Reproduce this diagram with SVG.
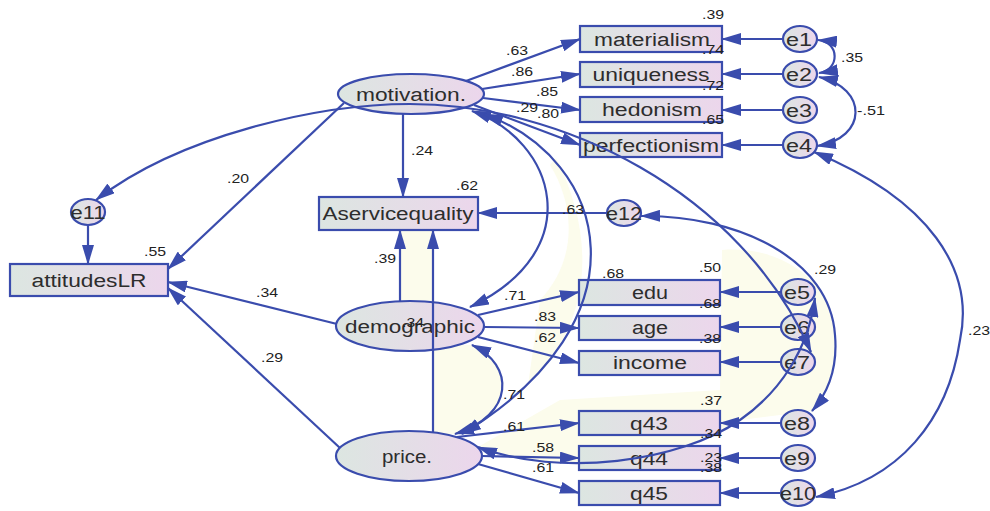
<svg xmlns="http://www.w3.org/2000/svg" width="990" height="511" viewBox="0 0 990 511">
<defs>
<linearGradient id="gf" x1="0" y1="0" x2="1" y2="0">
<stop offset="0" stop-color="#dce6e1"/>
<stop offset="1" stop-color="#ecd6ec"/>
</linearGradient>
<marker id="ah" viewBox="0 0 20 12" markerWidth="20" markerHeight="12" refX="19" refY="6" orient="auto-start-reverse" markerUnits="userSpaceOnUse">
<path d="M0,0 L20,6 L0,12 Z" fill="#3a4cad"/>
</marker>
<style>
.bx{fill:url(#gf);stroke:#3a4cad;stroke-width:2.2}
.el{fill:url(#gf);stroke:#3a4cad;stroke-width:2.2}
.nt{font-family:"Liberation Sans",Arial,sans-serif;font-size:18px;fill:#2d2d2d;text-anchor:middle}
.lb{font-family:"Liberation Sans",Arial,sans-serif;font-size:13px;fill:#222;text-anchor:middle}
.cn path{fill:none;stroke:#3a4cad;stroke-width:2.2}
.a1{marker-end:url(#ah)}
.a2{marker-start:url(#ah);marker-end:url(#ah)}
.tint{fill:#fcfcec;stroke:none}
</style>
</defs>
<rect x="0" y="0" width="990" height="511" fill="#ffffff"/>
<g id="tints">
<rect class="tint" x="400" y="230" width="33" height="72"/>
<path class="tint" d="M433,345 L472,345 C515,365 515,415 455,434 L433,434 Z"/>
<path class="tint" d="M550,165 C575,205 578,260 540,300 L528,385 C596,320 594,232 556,158 Z"/>
<path class="tint" d="M722,250 C790,245 835,290 835,335 C838,370 826,395 812,411 L740,420 C680,462 560,478 478,447 L560,400 L720,390 Z"/>
</g>
<g id="nodes">
<g id="motivation"><ellipse class="el" cx="411" cy="94" rx="73" ry="20"/><text class="nt" x="411" y="100.5" textLength="110" lengthAdjust="spacingAndGlyphs">motivation.</text></g>
<g id="demographic"><ellipse class="el" cx="410" cy="326" rx="74" ry="25"/><text class="nt" x="410" y="332.5" textLength="130" lengthAdjust="spacingAndGlyphs">demographic</text></g>
<g id="price"><ellipse class="el" cx="409" cy="456" rx="73" ry="25"/><text class="nt" x="407" y="462.5" textLength="50" lengthAdjust="spacingAndGlyphs">price.</text></g>
<g id="materialism"><rect class="bx" x="580" y="26" width="142" height="26"/><text class="nt" x="652" y="45.5" textLength="116" lengthAdjust="spacingAndGlyphs">materialism</text></g>
<g id="uniqueness"><rect class="bx" x="580" y="62" width="142" height="25"/><text class="nt" x="651" y="80.5" textLength="117" lengthAdjust="spacingAndGlyphs">uniqueness</text></g>
<g id="hedonism"><rect class="bx" x="580" y="97" width="142" height="25"/><text class="nt" x="652" y="116" textLength="100" lengthAdjust="spacingAndGlyphs">hedonism</text></g>
<g id="perfectionism"><rect class="bx" x="580" y="133" width="142" height="24"/><text class="nt" x="651" y="151.5" textLength="136" lengthAdjust="spacingAndGlyphs">perfectionism</text></g>
<g id="Aservicequality"><rect class="bx" x="319" y="197" width="159" height="33"/><text class="nt" x="398" y="220" textLength="151" lengthAdjust="spacingAndGlyphs">Aservicequality</text></g>
<g id="attitudesLR"><rect class="bx" x="10" y="264" width="158" height="32"/><text class="nt" x="89" y="286.5" textLength="115" lengthAdjust="spacingAndGlyphs">attitudesLR</text></g>
<g id="edu"><rect class="bx" x="579" y="280" width="141" height="25"/><text class="nt" x="650" y="298.5" textLength="36" lengthAdjust="spacingAndGlyphs">edu</text></g>
<g id="age"><rect class="bx" x="579" y="316" width="141" height="24"/><text class="nt" x="650" y="334" textLength="36" lengthAdjust="spacingAndGlyphs">age</text></g>
<g id="income"><rect class="bx" x="579" y="351" width="141" height="24"/><text class="nt" x="650" y="369" textLength="74" lengthAdjust="spacingAndGlyphs">income</text></g>
<g id="q43"><rect class="bx" x="579" y="411" width="141" height="24"/><text class="nt" x="649" y="429.5" textLength="38" lengthAdjust="spacingAndGlyphs">q43</text></g>
<g id="q44"><rect class="bx" x="579" y="446" width="141" height="24"/><text class="nt" x="649" y="464.5" textLength="38" lengthAdjust="spacingAndGlyphs">q44</text></g>
<g id="q45"><rect class="bx" x="579" y="481" width="141" height="24"/><text class="nt" x="649" y="499.5" textLength="38" lengthAdjust="spacingAndGlyphs">q45</text></g>
<g id="e1"><ellipse class="el" cx="800" cy="39" rx="17" ry="13"/><text class="nt" x="799" y="45.5" textLength="26" lengthAdjust="spacingAndGlyphs">e1</text></g>
<g id="e2"><ellipse class="el" cx="800" cy="74" rx="17" ry="13"/><text class="nt" x="799" y="80.5" textLength="26" lengthAdjust="spacingAndGlyphs">e2</text></g>
<g id="e3"><ellipse class="el" cx="800" cy="110" rx="17" ry="13"/><text class="nt" x="799" y="116.5" textLength="26" lengthAdjust="spacingAndGlyphs">e3</text></g>
<g id="e4"><ellipse class="el" cx="800" cy="145" rx="17" ry="13"/><text class="nt" x="799" y="151.5" textLength="26" lengthAdjust="spacingAndGlyphs">e4</text></g>
<g id="e5"><ellipse class="el" cx="798" cy="292" rx="17" ry="13"/><text class="nt" x="797" y="298.5" textLength="26" lengthAdjust="spacingAndGlyphs">e5</text></g>
<g id="e6"><ellipse class="el" cx="798" cy="327" rx="17" ry="13"/><text class="nt" x="797" y="333.5" textLength="26" lengthAdjust="spacingAndGlyphs">e6</text></g>
<g id="e7"><ellipse class="el" cx="798" cy="362" rx="17" ry="13"/><text class="nt" x="797" y="368.5" textLength="26" lengthAdjust="spacingAndGlyphs">e7</text></g>
<g id="e8"><ellipse class="el" cx="798" cy="423" rx="17" ry="13"/><text class="nt" x="797" y="429.5" textLength="26" lengthAdjust="spacingAndGlyphs">e8</text></g>
<g id="e9"><ellipse class="el" cx="798" cy="458" rx="17" ry="13"/><text class="nt" x="797" y="464.5" textLength="26" lengthAdjust="spacingAndGlyphs">e9</text></g>
<g id="e10"><ellipse class="el" cx="798" cy="493" rx="17" ry="13"/><text class="nt" x="798" y="499.5" textLength="36" lengthAdjust="spacingAndGlyphs">e10</text></g>
<g id="e11"><ellipse class="el" cx="88" cy="212" rx="17" ry="13"/><text class="nt" x="88" y="218.5" textLength="35" lengthAdjust="spacingAndGlyphs">e11</text></g>
<g id="e12"><ellipse class="el" cx="624" cy="213" rx="17" ry="13"/><text class="nt" x="624" y="219.5" textLength="36" lengthAdjust="spacingAndGlyphs">e12</text></g>
</g>
<g id="connectors" class="cn">
<path class="a1" d="M466,81 L580,39"/>
<path class="a1" d="M482,89 L580,74"/>
<path class="a1" d="M483,98 L580,110"/>
<path class="a1" d="M474,105 L580,145"/>
<path class="a1" d="M783,39 L722,39"/>
<path class="a1" d="M783,74 L722,74"/>
<path class="a1" d="M783,110 L722,110"/>
<path class="a1" d="M783,145 L722,145"/>
<path class="a2" d="M818,40 C840,42 840,70 819,73"/>
<path class="a2" d="M819,77 C868,88 868,138 817,146"/>
<path class="a1" d="M403,114 L403,197"/>
<path class="a1" d="M344,103 L168,269"/>
<path class="a2" d="M96,200 C180,135 320,104 410,104 C560,104 740,190 811,352"/>
<path class="a1" d="M607,213 L478,213"/>
<path class="a2" d="M641,216 C740,215 830,260 835,335 C838,370 826,395 812,411"/>
<path class="a2" d="M814,152 C930,200 975,270 960,340 C948,420 900,480 816,497"/>
<path class="a2" d="M472,111 C555,140 590,250 470,307"/>
<path class="a2" d="M484,114 C610,160 650,320 462,434"/>
<path class="a2" d="M472,345 C515,365 515,415 455,434"/>
<path class="a2" d="M478,447 C560,478 680,462 740,420 C780,392 808,350 815,298"/>
<path class="a1" d="M400,301 L400,230"/>
<path class="a1" d="M433,432 L433,230"/>
<path class="a1" d="M337,324 L168,282"/>
<path class="a1" d="M340,448 L168,288"/>
<path class="a1" d="M88,225 L88,264"/>
<path class="a1" d="M478,315 L579,292"/>
<path class="a1" d="M484,327 L579,328"/>
<path class="a1" d="M478,337 L579,363"/>
<path class="a1" d="M781,292 L720,292"/>
<path class="a1" d="M781,327 L720,327"/>
<path class="a1" d="M781,362 L720,362"/>
<path class="a1" d="M781,423 L720,423"/>
<path class="a1" d="M781,458 L720,458"/>
<path class="a1" d="M781,493 L720,493"/>
<path class="a1" d="M457,437 L579,423"/>
<path class="a1" d="M482,456 L579,458"/>
<path class="a1" d="M478,464 L579,493"/>
</g>
<g id="labels">
<text class="lb" x="713" y="18.5" textLength="22" lengthAdjust="spacingAndGlyphs">.39</text>
<text class="lb" x="713" y="53.5" textLength="22" lengthAdjust="spacingAndGlyphs">.74</text>
<text class="lb" x="713" y="89.5" textLength="22" lengthAdjust="spacingAndGlyphs">.72</text>
<text class="lb" x="713" y="123.5" textLength="22" lengthAdjust="spacingAndGlyphs">.65</text>
<text class="lb" x="517" y="54.5" textLength="22" lengthAdjust="spacingAndGlyphs">.63</text>
<text class="lb" x="522" y="75.5" textLength="22" lengthAdjust="spacingAndGlyphs">.86</text>
<text class="lb" x="547" y="95.5" textLength="22" lengthAdjust="spacingAndGlyphs">.85</text>
<text class="lb" x="527" y="111.5" textLength="22" lengthAdjust="spacingAndGlyphs">.29</text>
<text class="lb" x="548" y="117.5" textLength="22" lengthAdjust="spacingAndGlyphs">.80</text>
<text class="lb" x="852" y="61.5" textLength="22" lengthAdjust="spacingAndGlyphs">.35</text>
<text class="lb" x="871" y="114.5" textLength="28" lengthAdjust="spacingAndGlyphs">-.51</text>
<text class="lb" x="422" y="154.5" textLength="22" lengthAdjust="spacingAndGlyphs">.24</text>
<text class="lb" x="467" y="189.5" textLength="22" lengthAdjust="spacingAndGlyphs">.62</text>
<text class="lb" x="573" y="213.5" textLength="22" lengthAdjust="spacingAndGlyphs">.63</text>
<text class="lb" x="613" y="277.5" textLength="22" lengthAdjust="spacingAndGlyphs">.68</text>
<text class="lb" x="238" y="182.5" textLength="22" lengthAdjust="spacingAndGlyphs">.20</text>
<text class="lb" x="155" y="255.5" textLength="22" lengthAdjust="spacingAndGlyphs">.55</text>
<text class="lb" x="385" y="262.5" textLength="22" lengthAdjust="spacingAndGlyphs">.39</text>
<text class="lb" x="267" y="296.5" textLength="22" lengthAdjust="spacingAndGlyphs">.34</text>
<text class="lb" x="413" y="326.5" textLength="22" lengthAdjust="spacingAndGlyphs">.34</text>
<text class="lb" x="272" y="361.5" textLength="22" lengthAdjust="spacingAndGlyphs">.29</text>
<text class="lb" x="710" y="271.5" textLength="22" lengthAdjust="spacingAndGlyphs">.50</text>
<text class="lb" x="710" y="307.5" textLength="22" lengthAdjust="spacingAndGlyphs">.68</text>
<text class="lb" x="710" y="342.5" textLength="22" lengthAdjust="spacingAndGlyphs">.38</text>
<text class="lb" x="515" y="299.5" textLength="22" lengthAdjust="spacingAndGlyphs">.71</text>
<text class="lb" x="545" y="320.5" textLength="22" lengthAdjust="spacingAndGlyphs">.83</text>
<text class="lb" x="545" y="341.5" textLength="22" lengthAdjust="spacingAndGlyphs">.62</text>
<text class="lb" x="825" y="273.5" textLength="22" lengthAdjust="spacingAndGlyphs">.29</text>
<text class="lb" x="979" y="334.5" textLength="22" lengthAdjust="spacingAndGlyphs">.23</text>
<text class="lb" x="514" y="398.5" textLength="22" lengthAdjust="spacingAndGlyphs">.71</text>
<text class="lb" x="514" y="430.5" textLength="22" lengthAdjust="spacingAndGlyphs">.61</text>
<text class="lb" x="543" y="451.5" textLength="22" lengthAdjust="spacingAndGlyphs">.58</text>
<text class="lb" x="543" y="471.5" textLength="22" lengthAdjust="spacingAndGlyphs">.61</text>
<text class="lb" x="711" y="404.5" textLength="22" lengthAdjust="spacingAndGlyphs">.37</text>
<text class="lb" x="711" y="437.5" textLength="22" lengthAdjust="spacingAndGlyphs">.34</text>
<text class="lb" x="711" y="461.5" textLength="22" lengthAdjust="spacingAndGlyphs">.23</text>
<text class="lb" x="711" y="471.5" textLength="22" lengthAdjust="spacingAndGlyphs">.38</text>
</g>
</svg>
